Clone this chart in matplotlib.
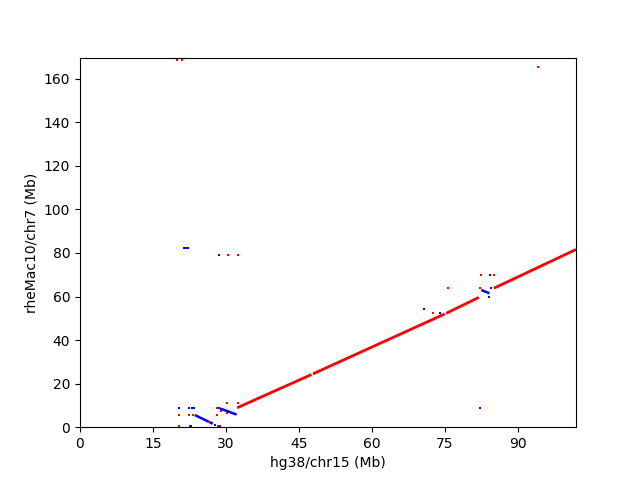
import matplotlib
matplotlib.use('Agg')
import matplotlib.pyplot as plt

# hg38 chr15 vs rheMac10 chr7, positions in Mb
chr_x_len = 101.99
chr_y_len = 169.7

# forward alignments (red): x0, x1, y0, y1
fwd_x0 = [32.3, 47.9, 75.3, 85.1]
fwd_x1 = [47.6, 75.0, 82.0, 101.99]
fwd_y0 = [8.9, 24.5, 52.3, 63.8]
fwd_y1 = [24.2, 52.0, 59.6, 81.6]

# reverse alignments (blue)
rev_x0 = [23.6, 28.8, 82.5]
rev_x1 = [27.3, 32.2, 84.2]
rev_y0 = [5.6, 8.6, 63.0]
rev_y1 = [1.6, 5.8, 61.5]

# short hits
red_px = [20.0, 21.0, 94.2, 20.4, 20.4, 22.4, 23.2, 22.6, 28.2, 28.4, 30.3, 32.4, 30.3,
          30.5, 32.5, 82.4, 85.1, 75.6, 72.6, 82.3, 28.2, 28.9, 26.5]
red_py = [168.4, 168.4, 165.2, 5.8, 0.6, 5.8, 5.8, 0.6, 5.8, 0.6, 10.9, 10.9, 6.3,
          79.2, 79.2, 70.0, 70.0, 64.0, 52.6, 64.0, 8.9, 7.5, 2.2]
blue_px = [20.4, 22.4, 23.0, 23.4, 28.6, 21.4, 21.8, 22.3, 28.6, 84.3, 70.8, 74.0,
           84.0, 84.5, 82.3, 22.9, 28.7, 30.9, 27.8]
blue_py = [8.9, 8.9, 8.9, 8.9, 8.9, 82.2, 82.2, 82.2, 79.2, 70.0, 54.3, 52.6,
           59.6, 63.9, 9.0, 0.6, 0.6, 7.2, 1.0]

fig, ax = plt.subplots(figsize=(6.4, 4.8), dpi=100)

for x0, x1, y0, y1 in zip(fwd_x0, fwd_x1, fwd_y0, fwd_y1):
    ax.plot([x0, x1], [y0, y1], color='red', lw=2.0, solid_capstyle='butt')
for x0, x1, y0, y1 in zip(rev_x0, rev_x1, rev_y0, rev_y1):
    ax.plot([x0, x1], [y0, y1], color='blue', lw=1.8, solid_capstyle='butt')

ax.plot(red_px, red_py, 's', color='red', ms=2.0, mew=0)
ax.plot(blue_px, blue_py, 's', color='blue', ms=2.0, mew=0)

ax.set_xlim(0, chr_x_len)
ax.set_ylim(0, chr_y_len)
ax.set_xticks([0, 15, 30, 45, 60, 75, 90])
ax.set_xlabel('hg38/chr15 (Mb)')
ax.set_ylabel('rheMac10/chr7 (Mb)')

plt.savefig('out.png')
